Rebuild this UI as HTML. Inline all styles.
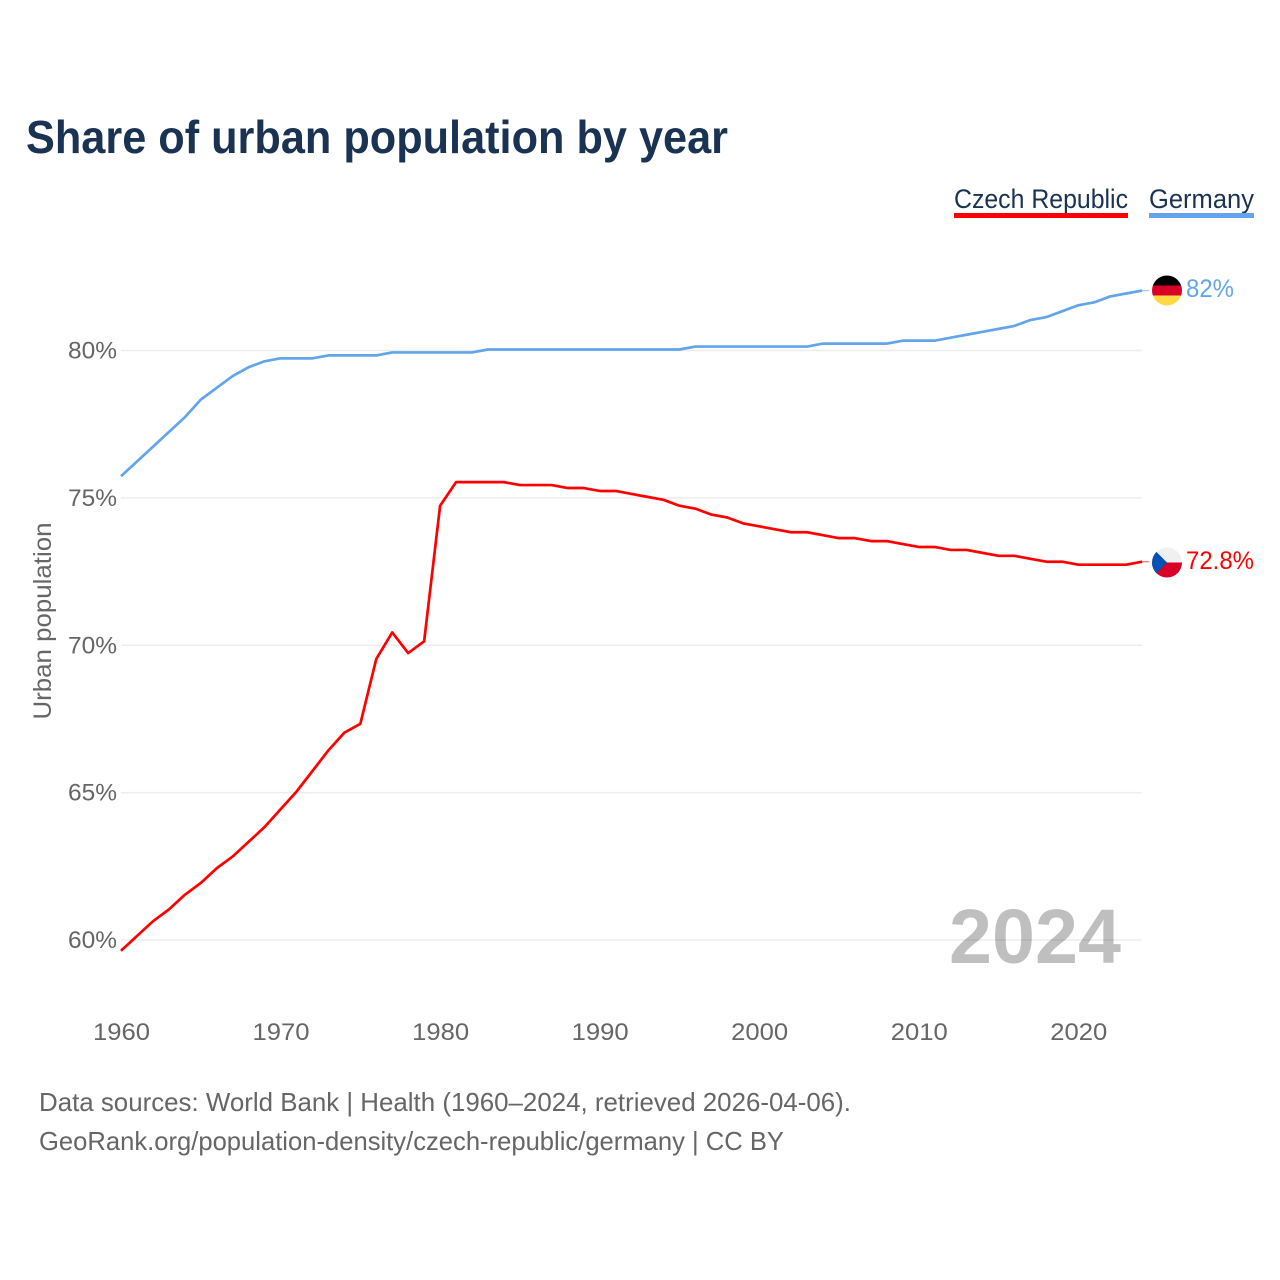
<!DOCTYPE html>
<html lang="en">
<head>
<meta charset="utf-8">
<title>Share of urban population by year</title>
<style>
html,body{margin:0;padding:0;background:#fff;width:1280px;height:1280px;overflow:hidden}
svg{display:block}
text{font-family:"Liberation Sans",sans-serif}
</style>
</head>
<body>
<svg id="chart" xmlns="http://www.w3.org/2000/svg" width="1280" height="1280" viewBox="0 0 1280 1280">
  <defs>
    <clipPath id="clip-de"><circle cx="1167" cy="290.5" r="15"/></clipPath>
    <clipPath id="clip-cz"><circle cx="1167" cy="562.5" r="15"/></clipPath>
  </defs>
  <text x="26" y="153" font-size="46" font-weight="700" fill="#1a3353" textLength="702" lengthAdjust="spacingAndGlyphs">Share of urban population by year</text>

  <g>
    <g>
      <text x="954" y="208" font-size="27" fill="#1a3353" textLength="174" lengthAdjust="spacingAndGlyphs">Czech Republic</text>
      <rect x="954" y="213" width="174" height="5" fill="#ff0000"/>
    </g>
    <g>
      <text x="1149" y="208" font-size="27" fill="#1a3353" textLength="105" lengthAdjust="spacingAndGlyphs">Germany</text>
      <rect x="1149" y="213" width="105" height="5" fill="#62a5ec"/>
    </g>
  </g>

  <g id="grid"></g>
  <g id="y-ticks"></g>
  <g id="x-ticks"></g>

  <text transform="translate(51,621) rotate(-90)" text-anchor="middle" font-size="25" fill="#666666" textLength="197" lengthAdjust="spacingAndGlyphs">Urban population</text>

  <text x="949" y="963" font-size="77.3" font-weight="700" fill="#000000" fill-opacity="0.25" textLength="172" lengthAdjust="spacingAndGlyphs">2024</text>

  <g id="series"></g>

  <g clip-path="url(#clip-de)">
    <rect x="1152" y="275.5" width="30" height="10" fill="#000000"/>
    <rect x="1152" y="285.5" width="30" height="10" fill="#d80027"/>
    <rect x="1152" y="295.5" width="30" height="10" fill="#ffda44"/>
  </g>
  <g clip-path="url(#clip-cz)">
    <rect x="1152" y="547.5" width="30" height="15" fill="#f0f0f0"/>
    <rect x="1152" y="562.5" width="30" height="15" fill="#d80027"/>
    <polygon points="1152,547.5 1167,562.5 1152,577.5" fill="#0052b4"/>
  </g>

  <text id="end-de" x="1186" y="297" font-size="25" fill="#62a5ec" textLength="48" lengthAdjust="spacingAndGlyphs"></text>
  <text id="end-cz" x="1186" y="569" font-size="25" fill="#ff0000" textLength="68" lengthAdjust="spacingAndGlyphs"></text>

  <g>
    <text x="39" y="1111" font-size="26" fill="#666666" textLength="812" lengthAdjust="spacingAndGlyphs">Data sources: World Bank | Health (1960–2024, retrieved 2026-04-06).</text>
    <text x="39" y="1150" font-size="26" fill="#666666" textLength="745" lengthAdjust="spacingAndGlyphs">GeoRank.org/population-density/czech-republic/germany | CC BY</text>
  </g>
</svg>
<script>
const years = [];
for (let year = 1960; year <= 2024; year++) years.push(year);
const czechValues = [59.6,60.1,60.6,61.0,61.5,61.9,62.4,62.8,63.3,63.8,64.4,65.0,65.7,66.4,67.0,67.3,69.5,70.4,69.7,70.1,74.7,75.5,75.5,75.5,75.5,75.4,75.4,75.4,75.3,75.3,75.2,75.2,75.1,75.0,74.9,74.7,74.6,74.4,74.3,74.1,74.0,73.9,73.8,73.8,73.7,73.6,73.6,73.5,73.5,73.4,73.3,73.3,73.2,73.2,73.1,73.0,73.0,72.9,72.8,72.8,72.7,72.7,72.7,72.7,72.8];
const germanyValues = [75.7,76.2,76.7,77.2,77.7,78.3,78.7,79.1,79.4,79.6,79.7,79.7,79.7,79.8,79.8,79.8,79.8,79.9,79.9,79.9,79.9,79.9,79.9,80.0,80.0,80.0,80.0,80.0,80.0,80.0,80.0,80.0,80.0,80.0,80.0,80.0,80.1,80.1,80.1,80.1,80.1,80.1,80.1,80.1,80.2,80.2,80.2,80.2,80.2,80.3,80.3,80.3,80.4,80.5,80.6,80.7,80.8,81.0,81.1,81.3,81.5,81.6,81.8,81.9,82.0];
const yTicks = [60,65,70,75,80];
const xTicks = [1960,1970,1980,1990,2000,2010,2020];

const NS = 'http://www.w3.org/2000/svg';
const xScale = function (year) { return 121 + (year - 1960) * 15.955; };
const yScale = function (value) { return 350.5 + (80 - value) * 29.475; };
const lineOffset = -1;

const grid = document.getElementById('grid');
const yTickGroup = document.getElementById('y-ticks');
const xTickGroup = document.getElementById('x-ticks');
const seriesGroup = document.getElementById('series');

yTicks.forEach(function (tick) {
  const rule = document.createElementNS(NS, 'line');
  
  
  rule.setAttribute('x1', 121);
  rule.setAttribute('x2', 1142);
  rule.setAttribute('y1', yScale(tick));
  rule.setAttribute('y2', yScale(tick));
  rule.setAttribute('stroke', '#ededed');
  rule.setAttribute('stroke-width', 1.5);
  grid.appendChild(rule);

  const label = document.createElementNS(NS, 'text');
  
  
  label.setAttribute('x', 117);
  label.setAttribute('y', yScale(tick) + 8);
  label.setAttribute('text-anchor', 'end');
  label.setAttribute('font-size', 24);
  label.setAttribute('fill', '#666666');
  label.setAttribute('textLength', 49);
  label.setAttribute('lengthAdjust', 'spacingAndGlyphs');
  label.textContent = tick + '%';
  yTickGroup.appendChild(label);
});

xTicks.forEach(function (tick) {
  const label = document.createElementNS(NS, 'text');
  
  
  label.setAttribute('x', xScale(tick) + 0.5);
  label.setAttribute('y', 1040);
  label.setAttribute('text-anchor', 'middle');
  label.setAttribute('font-size', 24);
  label.setAttribute('fill', '#666666');
  label.setAttribute('textLength', 57);
  label.setAttribute('lengthAdjust', 'spacingAndGlyphs');
  label.textContent = String(tick);
  xTickGroup.appendChild(label);
});

function pathFor(values) {
  return values.map(function (value, i) {
    return (i ? 'L' : 'M') + xScale(years[i]).toFixed(2) + ' ' + (yScale(value) + lineOffset).toFixed(2);
  }).join(' ');
}

const czechLine = document.createElementNS(NS, 'path');


czechLine.setAttribute('d', pathFor(czechValues));
czechLine.setAttribute('fill', 'none');
czechLine.setAttribute('stroke', '#ff0000');
czechLine.setAttribute('stroke-width', 2.7);
czechLine.setAttribute('stroke-linejoin', 'round');
seriesGroup.appendChild(czechLine);

const germanyLine = document.createElementNS(NS, 'path');


germanyLine.setAttribute('d', pathFor(germanyValues));
germanyLine.setAttribute('fill', 'none');
germanyLine.setAttribute('stroke', '#62a5ec');
germanyLine.setAttribute('stroke-width', 2.7);
germanyLine.setAttribute('stroke-linejoin', 'round');
seriesGroup.appendChild(germanyLine);

const lastIndex = years.length - 1;

const czechLeader = document.createElementNS(NS, 'line');


czechLeader.setAttribute('x1', xScale(years[lastIndex]));
czechLeader.setAttribute('x2', xScale(years[lastIndex]) + 7);
czechLeader.setAttribute('y1', yScale(czechValues[lastIndex]) + lineOffset);
czechLeader.setAttribute('y2', yScale(czechValues[lastIndex]) + lineOffset);
czechLeader.setAttribute('stroke', '#ff0000');
czechLeader.setAttribute('stroke-opacity', 0.6);
czechLeader.setAttribute('stroke-width', 1.2);
seriesGroup.appendChild(czechLeader);

const germanyLeader = document.createElementNS(NS, 'line');


germanyLeader.setAttribute('x1', xScale(years[lastIndex]));
germanyLeader.setAttribute('x2', xScale(years[lastIndex]) + 7);
germanyLeader.setAttribute('y1', yScale(germanyValues[lastIndex]) + lineOffset);
germanyLeader.setAttribute('y2', yScale(germanyValues[lastIndex]) + lineOffset);
germanyLeader.setAttribute('stroke', '#62a5ec');
germanyLeader.setAttribute('stroke-opacity', 0.6);
germanyLeader.setAttribute('stroke-width', 1.2);
seriesGroup.appendChild(germanyLeader);

document.getElementById('end-de').textContent = germanyValues[lastIndex] + '%';
document.getElementById('end-cz').textContent = czechValues[lastIndex] + '%';
</script>
</body>
</html>
